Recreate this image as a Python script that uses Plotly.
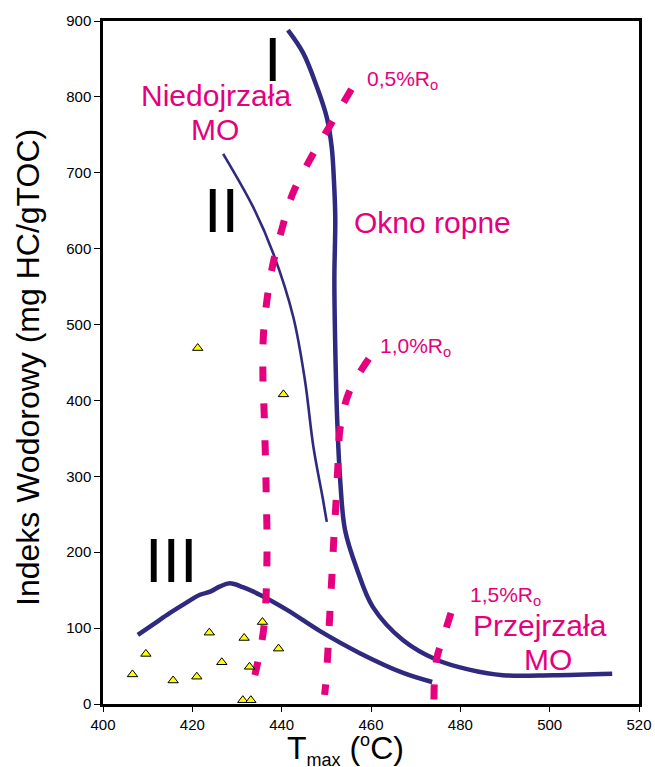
import plotly.graph_objects as go

# ---- data ----
curve_I_x = [441.4, 444.8, 447.9, 450.1, 451.2, 451.7, 452.0, 451.8, 452.0, 452.4, 453.1, 454.2, 456.9, 460.4, 467.2, 474.8, 482.2, 489.5, 500.7, 514.0]
curve_I_y = [888, 858, 813, 773, 734, 690, 640, 560, 470, 380, 295, 229, 177, 128, 84, 58, 45, 38, 38, 40]

curve_II_x = [426.9, 433.6, 438.1, 442.6, 445.2, 447.1, 449.2, 450.1]
curve_II_y = [725, 655, 594, 510, 427, 339, 271, 240]

curve_III_x = [407.8, 411.5, 415.0, 418.5, 421.7, 424.0, 426.2, 428.4, 431.3, 435.1, 441.2, 448.6, 457.5, 467.2, 473.7]
curve_III_y = [91, 106, 120, 133, 144, 148, 155, 159, 154, 144, 124, 96, 67, 41, 29]

ro05_x = [455.6, 450.6, 446.3, 442.5, 440.2, 438.1, 436.7, 435.9, 435.8, 436.1, 436.5, 436.7, 436.0, 434.0]
ro05_y = [810, 760, 717, 673, 629, 581, 532, 484, 431, 380, 290, 190, 100, 38]

ro10_x = [459.5, 455.1, 453.1, 452.6, 452.2, 451.7, 451.3, 450.8, 450.4, 449.9, 449.6]
ro10_y = [455, 411, 364, 315, 269, 220, 174, 121, 75, 28, 12]

ro15_x = [477.9, 476.3, 474.8, 474.2, 474.1]
ro15_y = [120, 90, 62, 30, 5]

samples_tmax = [406.6, 409.6, 415.7, 421.0, 423.8, 426.6, 431.6, 432.8, 431.3, 433.1, 435.7, 439.3, 440.4, 421.2]
samples_hi = [39, 66, 31, 36, 94, 55, 87, 49, 5, 5, 108, 73, 408, 469]

x_ticks = [400, 420, 440, 460, 480, 500, 520]
y_ticks = [0, 100, 200, 300, 400, 500, 600, 700, 800, 900]

NAVY = "#2f2a7f"
MAGENTA = "#e5007d"
FONT = "Liberation Sans, Arial, sans-serif"

fig = go.Figure()

for xs, ys, w in [(curve_I_x, curve_I_y, 4.5), (curve_II_x, curve_II_y, 2.6), (curve_III_x, curve_III_y, 4.5)]:
    fig.add_trace(go.Scatter(x=xs, y=ys, mode="lines",
                             line=dict(color=NAVY, width=w, shape="spline", smoothing=1.0),
                             showlegend=False, hoverinfo="skip"))

for xs, ys in [(ro05_x, ro05_y), (ro10_x, ro10_y), (ro15_x, ro15_y)]:
    fig.add_trace(go.Scatter(x=xs, y=ys, mode="lines",
                             line=dict(color=MAGENTA, width=7, dash="15px,22px", shape="spline", smoothing=1.0),
                             showlegend=False, hoverinfo="skip"))

fig.add_trace(go.Scatter(x=samples_tmax, y=samples_hi, mode="markers",
                         marker=dict(symbol="triangle-up", size=9, color="#ffff00",
                                     line=dict(color="black", width=1)),
                         showlegend=False))

annotations = []

def txt(x, y, text, size, color, xanchor="center", yanchor="middle", xref="x", yref="y", angle=0):
    annotations.append(dict(x=x, y=y, text=text, showarrow=False, xref=xref, yref=yref,
                            xanchor=xanchor, yanchor=yanchor, textangle=angle,
                            font=dict(family=FONT, size=size, color=color)))

# Roman numerals
txt(438.1, 850.5, "I", 63, "black")
txt(426.6, 651, "II", 63, "black")
txt(415.4, 190, "III", 63, "black")

# zone labels
txt(425.3, 801.7, "Niedojrzała", 30, MAGENTA)
txt(425.1, 757, "MO", 30, MAGENTA)
txt(473.7, 634.4, "Okno ropne", 30, MAGENTA)
txt(497.8, 103.4, "Przejrzała", 30, MAGENTA)
txt(499.6, 58.6, "MO", 30, MAGENTA)

# vitrinite reflectance labels
txt(458.7, 822, "0,5%R<sub>o</sub>", 21, MAGENTA, xanchor="left")
txt(461.6, 471, "1,0%R<sub>o</sub>", 21, MAGENTA, xanchor="left")
txt(481.7, 142, "1,5%R<sub>o</sub>", 21, MAGENTA, xanchor="left")

# axis titles
txt(-0.14, 0.4934, "Indeks Wodorowy (mg HC/gTOC)", 32, "black", xref="paper", yref="paper", angle=-90)
txt((285 - 103) / 536, (704 - 750) / 683,
    'T<sub><span style="font-size:18px">max</span></sub> (<sup><span style="font-size:18px">o</span></sup>C)',
    32, "black", xanchor="left", xref="paper", yref="paper")

fig.update_layout(
    width=655, height=767,
    margin=dict(l=103, r=16, t=21, b=63),
    paper_bgcolor="white", plot_bgcolor="white",
    font=dict(family=FONT, size=15, color="black"),
    annotations=annotations,
    showlegend=False,
)
fig.update_xaxes(range=[400, 520], tickvals=x_ticks, ticks="outside", ticklen=5, tickwidth=1,
                 tickcolor="black", showline=True, linecolor="black", linewidth=2.5, mirror=True,
                 showgrid=False, zeroline=False, automargin=False,
                 tickfont=dict(size=15, family=FONT, color="black"))
fig.update_yaxes(range=[0, 900], tickvals=y_ticks, ticks="outside", ticklen=6, tickwidth=1,
                 tickcolor="black", showline=True, linecolor="black", linewidth=2.5, mirror=True,
                 showgrid=False, zeroline=False, automargin=False,
                 tickfont=dict(size=15, family=FONT, color="black"))

# remove the default page margin so the 655x767 figure fills the window exactly
fig.write_html("out.html", config={"displayModeBar": False},
               post_script="document.body.style.margin='0';document.body.style.overflow='hidden';")
